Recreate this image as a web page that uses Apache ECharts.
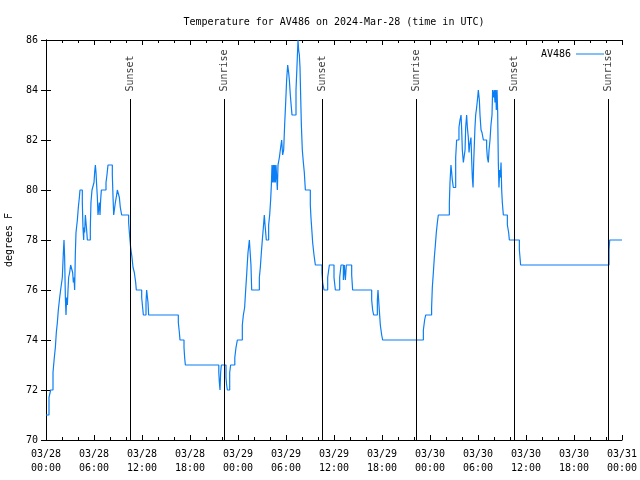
<!DOCTYPE html>
<html><head><meta charset="utf-8">
<script src="https://cdn.jsdelivr.net/npm/echarts@6/dist/echarts.min.js"></script>
<style>html,body{margin:0;padding:0;background:#fff}#c{width:640px;height:480px}</style>
</head><body><div id="c"></div>
<script>
// hours since 2024-03-28 00:00 UTC
const hours = [0,0.375,0.58,0.875,1.04,1.17,1.29,1.42,1.54,1.71,1.83,2.04,2.17,2.25,2.33,2.42,2.5,2.58,2.67,2.75,2.83,2.96,3.08,3.33,3.42,3.5,3.58,3.67,3.75,3.92,4.04,4.17,4.25,4.54,4.62,4.71,4.75,4.83,4.92,5.0,5.08,5.17,5.54,5.62,5.75,6.0,6.08,6.17,6.25,6.33,6.42,6.5,6.67,6.75,6.83,6.92,7.5,7.62,7.75,8.29,8.38,8.46,8.67,8.83,8.92,9.17,9.29,9.46,10.33,10.42,10.5,10.58,10.75,10.88,11.04,11.21,11.29,11.96,12.08,12.17,12.5,12.58,12.75,12.83,16.54,16.67,16.75,17.25,17.33,17.42,21.6,21.67,21.75,21.83,21.92,22.5,22.58,22.67,22.96,23.08,23.6,23.75,23.92,24.54,24.67,24.83,24.96,25.08,25.17,25.25,25.42,25.5,25.62,25.71,26.67,26.79,26.92,27.04,27.17,27.29,27.38,27.46,27.54,27.83,27.96,28.08,28.17,28.25,28.33,28.42,28.5,28.58,28.67,28.75,28.92,29.0,29.17,29.33,29.46,29.58,29.71,29.83,29.96,30.08,30.21,30.33,30.42,30.54,30.67,30.75,31.25,31.38,31.5,31.58,31.67,31.75,31.83,31.92,32.04,32.17,32.29,32.42,33.04,33.12,33.25,33.33,33.5,33.67,34.5,34.58,34.75,35.21,35.42,36.0,36.17,36.71,36.88,37.17,37.29,37.42,37.54,38.21,38.33,40.71,40.83,40.96,41.42,41.5,41.62,41.79,41.96,42.08,47.17,47.33,47.46,48.2,48.29,48.42,48.54,48.67,48.79,48.92,49.04,50.42,50.5,50.62,50.71,50.79,50.92,51.21,51.33,51.62,51.75,51.88,51.96,52.04,52.17,52.38,52.46,52.58,52.67,52.79,52.88,52.96,53.12,53.21,53.29,53.38,53.46,53.54,53.62,53.71,53.83,53.96,54.04,54.17,54.25,54.38,54.5,54.67,55.08,55.17,55.29,55.38,55.5,55.62,55.75,55.83,55.96,56.04,56.12,56.21,56.29,56.38,56.46,56.54,56.62,56.71,56.79,56.88,56.96,57.04,57.17,57.67,57.83,57.92,59.17,59.33,70.38,70.46,72.0];
const temps = [71.0,71.7,72.0,72.7,73.3,73.7,74.3,74.7,75.2,75.7,76.0,76.5,77.5,78.0,77.3,75.7,75.0,75.7,75.4,76.0,76.5,76.7,77.0,76.7,76.3,76.5,76.0,77.5,78.3,78.8,79.3,79.7,80.0,79.5,78.5,78.0,78.5,78.3,79.0,78.7,78.4,78.0,78.5,79.5,80.0,80.3,80.7,81.0,80.7,80.2,79.7,79.0,79.5,79.0,79.6,80.0,80.3,80.6,81.0,80.6,79.7,79.0,79.5,79.8,80.0,79.7,79.3,79.0,78.7,78.3,78.0,77.7,77.3,76.9,76.7,76.3,76.0,75.7,75.3,75.0,75.5,76.0,75.5,75.0,74.7,74.3,74.0,73.7,73.3,73.0,72.7,72.3,72.0,72.7,73.0,72.5,72.2,72.0,72.7,73.0,73.3,73.7,74.0,74.6,75.0,75.3,76.0,76.6,77.1,77.5,78.0,77.6,77.0,76.0,76.5,76.9,77.5,78.0,78.5,79.0,78.6,78.3,78.0,78.6,79.0,79.6,80.2,81.0,80.3,81.0,80.3,81.0,80.3,81.0,80.0,81.0,81.3,81.7,82.0,81.4,81.6,82.6,83.5,84.4,85.0,84.7,84.4,83.8,83.3,83.0,84.0,85.0,86.0,85.6,85.4,84.9,83.8,82.6,81.6,81.1,80.7,80.0,79.4,78.9,78.3,77.9,77.4,77.0,76.7,76.3,76.0,76.5,77.0,76.5,76.0,76.5,77.0,76.4,77.0,76.4,77.0,76.6,76.0,75.6,75.2,75.0,75.6,76.0,75.4,74.6,74.2,74.0,74.4,74.8,75.0,75.3,76.1,76.7,77.3,77.8,78.3,78.7,79.0,79.5,80.3,81.0,80.7,80.4,80.1,81.3,82.0,82.5,82.8,83.0,82.4,81.6,81.1,81.6,82.5,83.0,82.5,82.1,81.5,81.8,82.1,81.2,80.5,80.1,81.1,81.8,82.5,83.0,83.3,83.7,84.0,83.6,83.0,82.4,82.3,82.0,81.7,81.3,81.1,81.6,82.0,82.6,83.0,84.0,83.7,84.0,83.5,84.0,83.2,84.0,83.1,81.1,80.1,80.8,80.5,81.1,80.0,79.5,79.0,78.6,78.3,78.0,77.6,77.0,77.6,78.0,78.0];
const sunTimes = [10.53, 22.28, 34.53, 46.28, 58.53, 70.28];
const sunNames = ['Sunset','Sunrise','Sunset','Sunrise','Sunset','Sunrise'];
const xTickLabels = ['03/28\n00:00','03/28\n06:00','03/28\n12:00','03/28\n18:00','03/29\n00:00','03/29\n06:00','03/29\n12:00','03/29\n18:00','03/30\n00:00','03/30\n06:00','03/30\n12:00','03/30\n18:00','03/31\n00:00'];
const seriesName = 'AV486';
const titleText = 'Temperature for AV486 on 2024-Mar-28 (time in UTC)';
const yName = 'degrees F';

const FONT = 'DejaVu Sans Mono';
const lineTop = 83.64;
const blue = '#0a7ef5';

const chart = echarts.init(document.getElementById('c'), null, {renderer: 'canvas'});
const axisBase = {
  axisLine: {show: true, lineStyle: {color: '#000', width: 1}},
  axisTick: {show: true, inside: true, length: 5, lineStyle: {color: '#000'}},
  splitLine: {show: false}
};
chart.setOption({
  animation: false,
  backgroundColor: '#fff',
  textStyle: {fontFamily: FONT},
  title: {text: titleText, left: 329, top: 12, textAlign: 'center',
    textStyle: {fontFamily: FONT, fontSize: 10, fontWeight: 'normal', color: '#000'}},
  legend: {data: [{name: seriesName, icon: 'rect'}], right: 31, top: 44, align: 'right', itemWidth: 28, itemHeight: 1,
    itemStyle: {color: blue},
    textStyle: {fontFamily: FONT, fontSize: 10, color: '#000'}},
  grid: {left: 46, right: 18, top: 40, bottom: 40, containLabel: false, outerBoundsMode: 'none'},
  xAxis: [
    Object.assign({}, axisBase, {type: 'value', min: 0, max: 72, interval: 6, position: 'bottom',
      minorTick: {show: true, splitNumber: 3, length: 3, lineStyle: {color: '#000'}},
      axisLabel: {fontFamily: FONT, fontSize: 10, color: '#000', margin: 7, lineHeight: 14,
        formatter: v => xTickLabels[Math.round(v / 6)]}}),
    Object.assign({}, axisBase, {type: 'value', min: 0, max: 72, interval: 6, position: 'top',
      minorTick: {show: true, splitNumber: 3, length: 3, lineStyle: {color: '#000'}},
      axisLabel: {show: false}})
  ],
  yAxis: [
    Object.assign({}, axisBase, {type: 'value', min: 70, max: 86, interval: 2, position: 'left',
      name: yName, nameLocation: 'middle', nameGap: 32, nameRotate: 90,
      nameTextStyle: {fontFamily: FONT, fontSize: 10, color: '#000'},
      axisLabel: {fontFamily: FONT, fontSize: 10, color: '#000', margin: 8}}),
    Object.assign({}, axisBase, {type: 'value', min: 70, max: 86, interval: 2, position: 'right',
      axisLabel: {show: false}})
  ],
  series: [
    {
      name: seriesName, type: 'line', step: 'end', showSymbol: false, symbol: 'none',
      xAxisIndex: 0, yAxisIndex: 0, clip: true,
      lineStyle: {color: blue, width: 1.2}, itemStyle: {color: blue},
      data: hours.map((h, i) => [h, temps[i]]),
      markLine: {
        silent: true, symbol: ['none', 'none'], animation: false,
        lineStyle: {color: '#000', width: 1, type: 'solid'},
        label: {show: false},
        data: sunTimes.map(t => [{coord: [t, lineTop]}, {coord: [t, 70]}])
      }
    },
    {
      name: 'sunlabels', type: 'scatter', xAxisIndex: 0, yAxisIndex: 0,
      symbol: 'circle', symbolSize: 1, itemStyle: {color: 'rgba(0,0,0,0)'},
      data: sunTimes.map(t => [t, lineTop]),
      label: {show: true, position: 'top', distance: 7, rotate: 90, align: 'left', verticalAlign: 'middle',
        fontFamily: FONT, fontSize: 10, color: '#000',
        formatter: p => sunNames[p.dataIndex]}
    }
  ]
});
</script></body></html>
